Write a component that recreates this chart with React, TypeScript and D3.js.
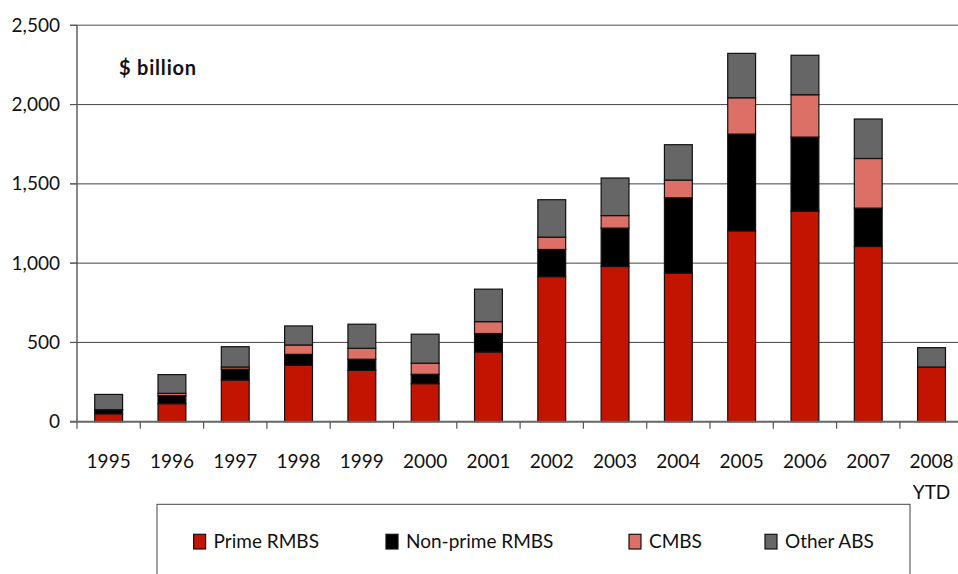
import React from "react";
import * as d3 from "d3";

// Issuance by asset type, $ billion
const years = ["1995", "1996", "1997", "1998", "1999", "2000", "2001", "2002", "2003", "2004", "2005", "2006", "2007", "2008"];
const primeRMBS = [50, 114, 263, 356, 324, 240, 440, 915, 979, 937, 1204, 1328, 1105, 345];
const nonPrimeRMBS = [24, 50, 68, 69, 70, 59, 116, 171, 242, 475, 610, 467, 242, 0];
const cmbs = [2, 15, 14, 59, 69, 70, 75, 78, 79, 112, 229, 267, 313, 0];
const otherABS = [96, 118, 128, 120, 152, 183, 205, 236, 237, 223, 280, 249, 249, 122];
const yTicks = [0, 500, 1000, 1500, 2000, 2500];

const seriesKeys = ["Prime RMBS", "Non-prime RMBS", "CMBS", "Other ABS"];
const seriesColors = ["#c21400", "#000000", "#dc7066", "#666666"];

const W = 958;
const H = 574;
const FONT = "Lato, 'Open Sans', sans-serif";

export default function App() {
  const rows = years.map((y, i) => ({
    year: y,
    "Prime RMBS": primeRMBS[i],
    "Non-prime RMBS": nonPrimeRMBS[i],
    CMBS: cmbs[i],
    "Other ABS": otherABS[i],
  }));
  const stacked = d3.stack<any>().keys(seriesKeys)(rows);

  const x = d3.scaleBand<string>().domain(years).range([77, 963.2]).paddingInner(0.56).paddingOuter(0.28);
  const step = x.step();
  const y = d3.scaleLinear().domain([0, 2500]).range([421.7, 25.3]);

  const axisLeft = 77;
  const plotRight = 963;

  const legendX = [193.6, 386, 629, 765];

  return (
    <svg width={W} height={H} style={{ position: "absolute", left: 0, top: 0, background: "#fff" }} fontFamily={FONT}>
      {/* gridlines */}
      {yTicks.map((t) => (
        <g key={t}>
          {t > 0 && (
            <line
              x1={70}
              x2={plotRight}
              y1={y(t)}
              y2={y(t)}
              stroke={t === 2500 ? "#888" : "#444"}
              strokeWidth={t === 2500 ? 1.4 : 1}
            />
          )}
          <line x1={70} x2={axisLeft} y1={y(t)} y2={y(t)} stroke="#555" strokeWidth={1} />
          <text x={60} y={y(t) + 6.5} textAnchor="end" fontSize={19} fill="#111">
            {d3.format(",")(t)}
          </text>
        </g>
      ))}

      {/* stacked bars */}
      {stacked.map((layer, li) => (
        <g key={layer.key} fill={seriesColors[li]}>
          {layer.map((d, i) => {
            const h = y(d[0]) - y(d[1]);
            if (h <= 0) return null;
            return (
              <rect
                key={years[i]}
                x={x(years[i])!}
                y={y(d[1])}
                width={x.bandwidth()}
                height={h}
                stroke="#111"
                strokeWidth={1.2}
              />
            );
          })}
        </g>
      ))}

      {/* axes */}
      <line x1={axisLeft} x2={axisLeft} y1={y(2500)} y2={y(0)} stroke="#555" strokeWidth={1.4} />
      <line x1={axisLeft - 7} x2={plotRight} y1={y(0)} y2={y(0)} stroke="#666" strokeWidth={2} />
      {years.map((yr, i) => (
        <line
          key={"t" + yr}
          x1={axisLeft + i * step}
          x2={axisLeft + i * step}
          y1={y(0)}
          y2={y(0) + 7}
          stroke="#555"
          strokeWidth={1.2}
        />
      ))}
      {years.map((yr) => (
        <text key={"l" + yr} x={x(yr)! + x.bandwidth() / 2} y={467.7} textAnchor="middle" fontSize={19} fill="#111">
          {yr}
        </text>
      ))}
      <text x={x("2008")! + x.bandwidth() / 2} y={499} textAnchor="middle" fontSize={19} fill="#111">
        YTD
      </text>

      {/* unit label */}
      <text x={119} y={75} fontSize={20} fontWeight="bold" letterSpacing={0.8} fill="#111">
        $ billion
      </text>

      {/* legend */}
      <rect x={157} y={504.3} width={753} height={100} fill="none" stroke="#444" strokeWidth={1} />
      {seriesKeys.map((k, i) => (
        <g key={"lg" + k}>
          <rect x={legendX[i]} y={534.3} width={12} height={14.7} fill={seriesColors[i]} stroke="#111" strokeWidth={1.2} />
          <text x={legendX[i] + 20} y={548.3} fontSize={19} fill="#111">
            {k}
          </text>
        </g>
      ))}
    </svg>
  );
}
